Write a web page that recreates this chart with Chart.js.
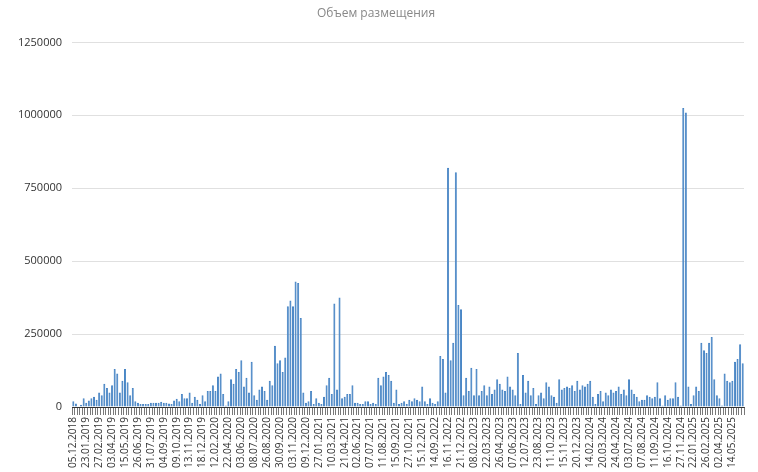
<!DOCTYPE html>
<html><head><meta charset="utf-8">
<script src="https://cdn.jsdelivr.net/npm/chart.js@4"></script>
<style>html,body{margin:0;background:#fff}</style>
</head><body><canvas id="c" width="758" height="472" style="width:758px;height:472px"></canvas>
<script>
const tickLabels=["05.12.2018","23.01.2019","27.02.2019","03.04.2019","15.05.2019","26.06.2019","31.07.2019","04.09.2019","09.10.2019","13.11.2019","18.12.2019","12.02.2020","22.04.2020","03.06.2020","08.07.2020","26.08.2020","30.09.2020","03.11.2020","09.12.2020","27.01.2021","10.03.2021","21.04.2021","02.06.2021","07.07.2021","11.08.2021","15.09.2021","27.10.2021","15.12.2021","14.09.2022","16.11.2022","21.12.2022","08.02.2023","22.03.2023","26.04.2023","07.06.2023","12.07.2023","23.08.2023","11.10.2023","15.11.2023","20.12.2023","14.02.2024","20.03.2024","24.04.2024","03.07.2024","07.08.2024","11.09.2024","16.10.2024","27.11.2024","22.01.2025","26.02.2025","02.04.2025","14.05.2025"];
const values=[
20000,12000,3000,8000,30000, 15000,22000,30000,35000,25000, 50000,40000,80000,65000,50000,
75000,130000,115000,50000,90000, 130000,85000,40000,65000,20000, 15000,10000,10000,10000,10000,
15000,15000,15000,15000,18000, 15000,15000,12000,10000,22000, 28000,20000,45000,30000,30000,
50000,15000,35000,25000,10000, 40000,20000,55000,55000,75000, 55000,105000,115000,45000,5000,
20000,95000,80000,130000,120000, 160000,70000,100000,50000,155000, 40000,25000,60000,70000,55000,
25000,90000,75000,210000,150000, 160000,120000,170000,345000,365000, 345000,430000,425000,305000,50000,
15000,20000,55000,10000,30000, 15000,10000,35000,75000,100000, 45000,355000,60000,375000,30000,
35000,45000,45000,75000,15000, 15000,10000,10000,20000,20000, 10000,15000,10000,100000,75000,
105000,120000,110000,90000,15000, 60000,10000,15000,20000,10000, 25000,20000,30000,25000,20000,
70000,20000,10000,30000,15000, 10000,20000,175000,165000,50000, 820000,160000,220000,805000,350000,
335000,40000,100000,55000,135000, 40000,130000,40000,55000,75000, 40000,70000,45000,60000,95000,
80000,60000,55000,105000,70000, 60000,40000,185000,10000,110000, 50000,90000,40000,65000,10000,
40000,50000,30000,85000,70000, 40000,35000,15000,95000,60000, 65000,70000,65000,75000,55000,
90000,60000,75000,70000,80000, 90000,35000,10000,45000,55000, 20000,50000,40000,60000,50000,
55000,70000,45000,60000,40000, 95000,60000,45000,35000,20000, 25000,25000,40000,35000,30000,
35000,85000,30000,5000,40000, 25000,30000,30000,85000,35000, 5000,1025000,1010000,70000,10000,
40000,70000,55000,220000,195000, 185000,220000,240000,95000,40000, 30000,5000,115000,90000,85000,
90000,155000,165000,215000,150000];
const labels=values.map((v,i)=>i%5===0?tickLabels[i/5]:'');
new Chart(document.getElementById('c'),{type:'bar',
data:{labels,datasets:[{data:values,backgroundColor:'#7aaee0',borderColor:'#4a86c5',borderWidth:{left:1,right:1,top:1,bottom:0},barPercentage:0.8,categoryPercentage:1}]},
options:{responsive:false,animation:false,maintainAspectRatio:false,
layout:{padding:{left:8,right:14,top:0,bottom:2}},
plugins:{legend:{display:false},tooltip:{enabled:false},
title:{display:true,text:'Объем размещения',color:'#888',font:{family:'Open Sans',size:12,weight:'normal'},padding:{top:6,bottom:22}}},
scales:{x:{grid:{display:true,drawOnChartArea:false,drawTicks:true,tickLength:8,color:'#555',lineWidth:0.8,offset:true},border:{color:'#333'},
ticks:{autoSkip:false,maxRotation:90,minRotation:90,color:'#333',font:{family:'Open Sans',size:10},padding:2}},
y:{min:0,max:1250000,ticks:{stepSize:250000,color:'#333',font:{family:'Open Sans',size:11},padding:10,callback:v=>String(v)},grid:{color:'#e0e0e0',drawTicks:false},border:{display:false}}}}});
</script></body></html>
